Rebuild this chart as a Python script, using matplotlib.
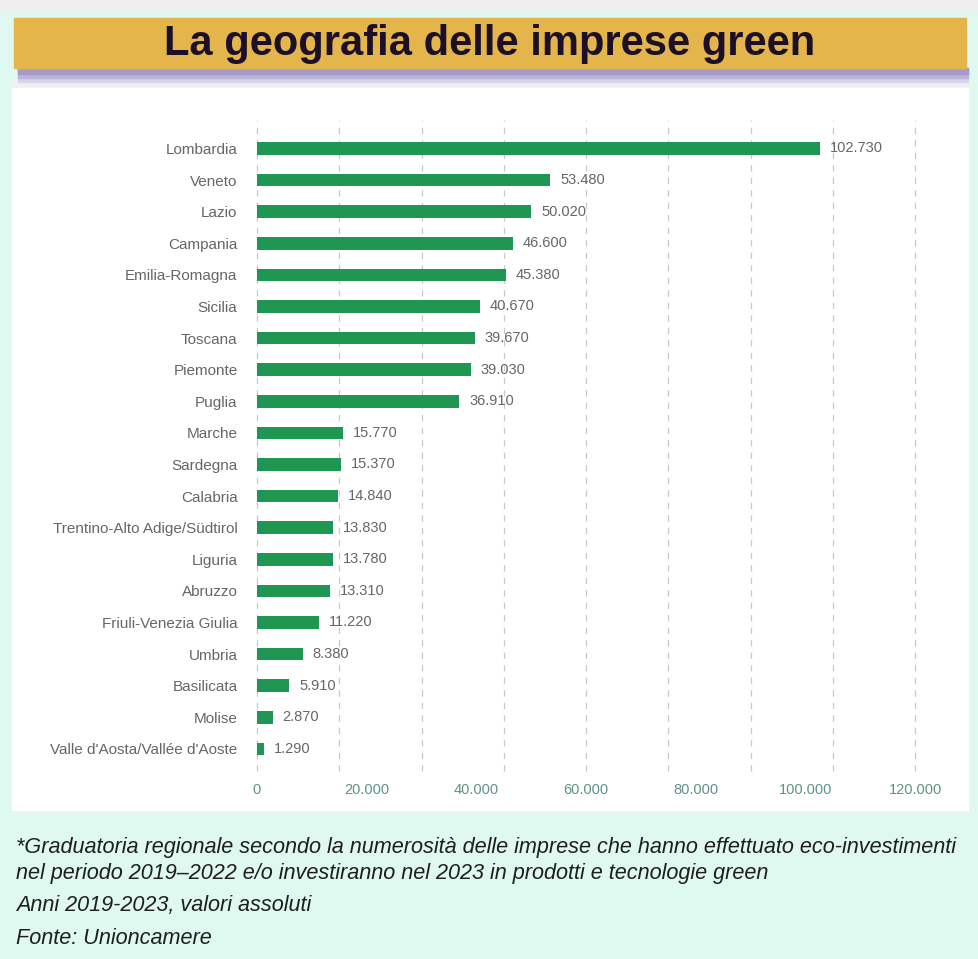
import numpy as np
import matplotlib
matplotlib.use('Agg')
import matplotlib.pyplot as plt
from matplotlib.patches import Rectangle
from matplotlib.ticker import FuncFormatter

W, H = 979, 959

regions = ['Lombardia', 'Veneto', 'Lazio', 'Campania', 'Emilia-Romagna', 'Sicilia',
           'Toscana', 'Piemonte', 'Puglia', 'Marche', 'Sardegna', 'Calabria',
           'Trentino-Alto Adige/Südtirol', 'Liguria', 'Abruzzo', 'Friuli-Venezia Giulia',
           'Umbria', 'Basilicata', 'Molise', "Valle d'Aosta/Vallée d'Aoste"]
imprese = [102730, 53480, 50020, 46600, 45380, 40670, 39670, 39030, 36910, 15770,
           15370, 14840, 13830, 13780, 13310, 11220, 8380, 5910, 2870, 1290]
x_ticks = [0, 20000, 40000, 60000, 80000, 100000, 120000]
grid_step = 15000

title = 'La geografia delle imprese green'
notes = ['*Graduatoria regionale secondo la numerosità delle imprese che hanno effettuato eco-investimenti',
         'nel periodo 2019–2022 e/o investiranno nel 2023 in prodotti e tecnologie green',
         'Anni 2019-2023, valori assoluti',
         'Fonte: Unioncamere']

GREEN = '#1f9652'
MINT = '#dff9f1'
GREY = '#666666'
TICKC = '#5e9288'


def px(x, y):
	# pixel coords (top-left origin) -> figure fraction
	return x / W, 1 - y / H


fig = plt.figure(figsize=(W / 100, H / 100), dpi=100)
fig.patch.set_facecolor(MINT)

# top grey strip, white panel
fig.patches.append(Rectangle((0, 1 - 10 / H), 1, 10 / H, transform=fig.transFigure,
                             color='#efefef', zorder=0))
fig.patches.append(Rectangle(px(12, 810), (968 - 12) / W, (810 - 80) / H,
                             transform=fig.transFigure, color='#f0f0f0', zorder=0))
fig.patches.append(Rectangle(px(12, 810), (968 - 12) / W, (810 - 88) / H,
                             transform=fig.transFigure, color='white', zorder=0))

# title banner with shadow
for i, c in enumerate(['#d8d4ea', '#bcb4d8', '#a59bc8']):
	fig.patches.append(Rectangle(px(18, 82 - 4 * i), (968 - 18) / W, (14 - 4 * i) / H,
	                             transform=fig.transFigure, color=c, zorder=1))
fig.patches.append(Rectangle(px(14, 68), (966 - 14) / W, 50 / H,
                             transform=fig.transFigure, color='#e4b54b', zorder=2))
fig.text(490 / W, 1 - 44 / H, title, ha='center', va='center', fontsize=30,
         fontweight='heavy', color='#1b1028', family=['Liberation Sans', 'DejaVu Sans'],
         zorder=3)

# chart
left, right = 257, 915
top, bottom = 120, 771
ax = fig.add_axes([left / W, 1 - bottom / H, (right - left) / W, (bottom - top) / H])
ax.set_zorder(5)
ax.patch.set_alpha(0)

y = np.arange(len(regions))
ax.barh(y, imprese, height=0.4, color=GREEN, zorder=3)
for yi, v in zip(y, imprese):
	ax.text(v + 1800, yi, f'{v:,}'.replace(',', '.'), va='center', ha='left',
	        fontsize=10.5, color=GREY, family='Liberation Sans')

ax.set_xlim(0, 120000)
ax.set_ylim(len(regions) - 0.3, -0.9)
ax.set_yticks(y)
ax.set_yticklabels(regions, fontsize=11, color=GREY, family='Liberation Sans')
ax.set_xticks(x_ticks)
ax.xaxis.set_major_formatter(FuncFormatter(lambda v, p: f'{int(v):,}'.replace(',', '.')))
for lab in ax.get_xticklabels():
	lab.set_fontsize(10.5)
	lab.set_color(TICKC)
	lab.set_family('Liberation Sans')
ax.tick_params(axis='both', which='both', length=0)
ax.tick_params(axis='x', pad=9)
ax.tick_params(axis='y', pad=14)
ax.grid(False)
for gx in np.arange(0, 120001, grid_step):
	ax.axvline(gx, linestyle=(0, (5, 5)), color='#c8c8c8', linewidth=0.9, zorder=0,
	           clip_on=False)
for s in ax.spines.values():
	s.set_visible(False)

# notes
ys = [848, 874, 906, 939]
for t, yy in zip(notes, ys):
	fig.text(16 / W, 1 - yy / H, t, ha='left', va='center', fontsize=15.6, style='italic',
	         color='#1e1e1e', family='Liberation Sans')

fig.savefig('out.png', dpi=100, facecolor=fig.get_facecolor())
